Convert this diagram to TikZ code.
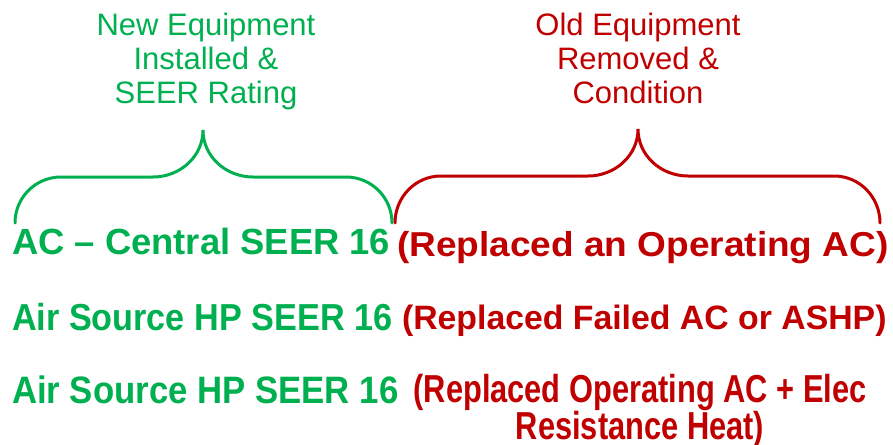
\documentclass[tikz,border=0pt]{standalone}
\usepackage{fontspec}
\setmainfont{Liberation Sans}
\newfontfamily\widesans[FakeStretch=1.07]{Liberation Sans}
\newfontfamily\narrowsans[FakeStretch=0.91]{Liberation Sans}
\newfontfamily\condsans[FakeStretch=0.79]{Liberation Sans}
\definecolor{newgreen}{RGB}{0,176,80}
\definecolor{oldred}{RGB}{192,0,0}

\begin{document}
\begin{tikzpicture}[x=0.5pt, y=-0.5pt,
  every node/.style={inner sep=0pt, outer sep=0pt},
  heading/.style={align=center, anchor=north, font=\fontsize{15.5}{17}\selectfont},
  entry/.style={anchor=base west},
  bracepath/.style={line width=1.5pt, line cap=round}]

\useasboundingbox (0,0) rectangle (893,444);

% Headings
\node[heading, text=newgreen] (newhead) at (206,13) {New Equipment\\Installed \&\\SEER Rating};
\node[heading, text=oldred] (oldhead) at (638,13) {Old Equipment\\Removed \&\\Condition};

% Brace end points and tips
\coordinate (newL) at (15,223);
\coordinate (newT) at (203,130);
\coordinate (newR) at (392,223);
\coordinate (oldL) at (395,223);
\coordinate (oldT) at (638,129);
\coordinate (oldR) at (880,223);

% Braces
\draw[bracepath, newgreen] (newL) to[out=90,in=180] (61,177) -- (153,177)
  to[out=0,in=-90] (newT) to[out=-90,in=180] (253,177) -- (346,177)
  to[out=0,in=90] (newR);
\draw[bracepath, oldred] (oldL) to[out=90,in=180] (441,176) -- (588,176)
  to[out=0,in=-90] (oldT) to[out=-90,in=180] (688,176) -- (834,176)
  to[out=0,in=90] (oldR);

% Rows: new equipment
\node[entry, text=newgreen, font=\bfseries\fontsize{18.2}{18.2}\selectfont] (acnew) at (12,254) {AC – Central SEER 16};
\node[entry, text=newgreen, font=\narrowsans\bfseries\fontsize{18.8}{18.8}\selectfont] (hpnew) at (12,330) {Air Source HP SEER 16};
\node[entry, text=newgreen, font=\narrowsans\bfseries\fontsize{19.1}{19.1}\selectfont] (hpelec) at (12,403) {Air Source HP SEER 16};

% Rows: old equipment
\node[entry, text=oldred, font=\widesans\bfseries\fontsize{17.3}{17.3}\selectfont] (acold) at (397,256) {(Replaced an Operating AC)};
\node[entry, text=oldred, font=\bfseries\fontsize{16.9}{16.9}\selectfont] (hpold) at (402,329) {(Replaced Failed AC or ASHP)};
\node[align=center, anchor=north, text=oldred, font=\condsans\bfseries\fontsize{19.5}{18.7}\selectfont] (elecold) at (640,374) {(Replaced Operating AC + Elec\\Resistance Heat)};

\end{tikzpicture}
\end{document}
